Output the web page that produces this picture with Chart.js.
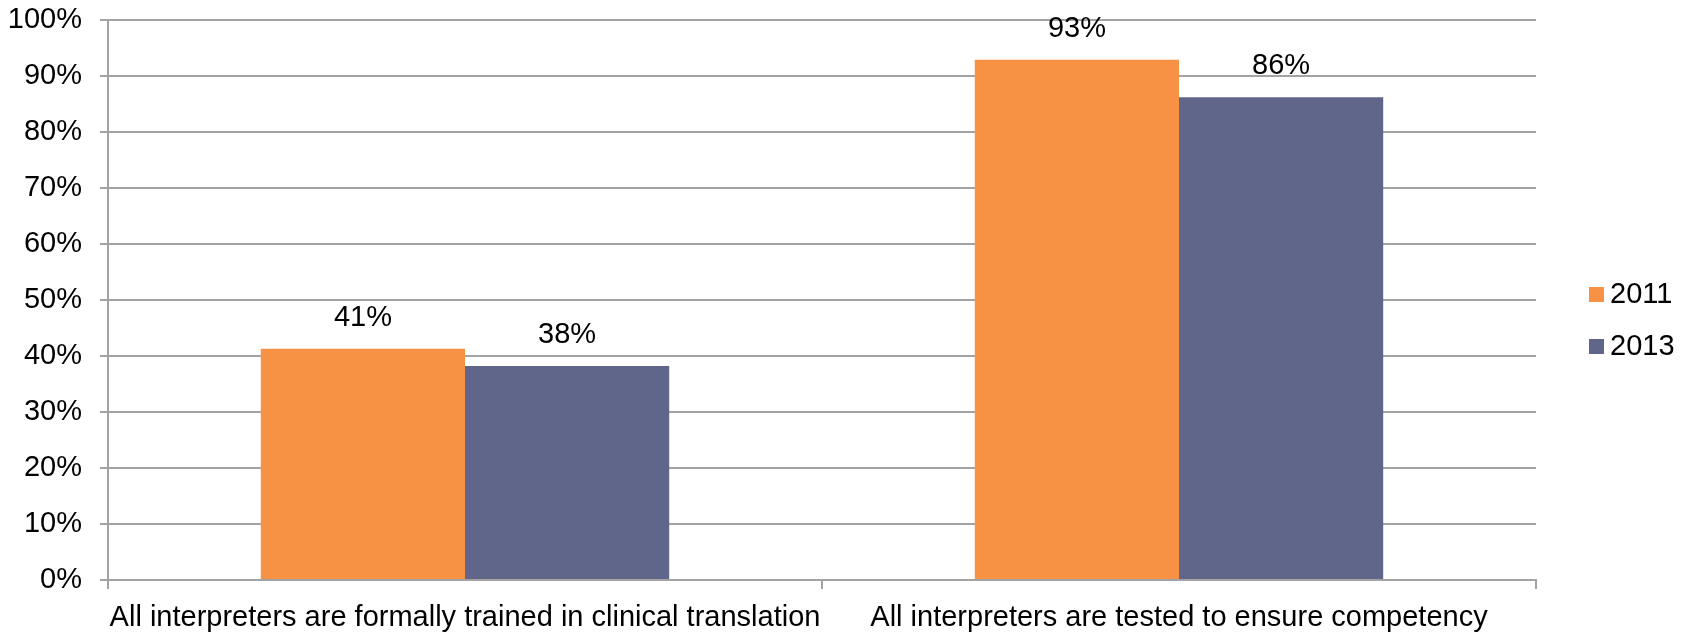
<!DOCTYPE html>
<html><head><meta charset="utf-8">
<script src="https://cdn.jsdelivr.net/npm/chart.js@4/dist/chart.umd.min.js"></script>
<style>html,body{margin:0;padding:0;background:#fff}#wrap{width:1695px;height:635px}</style>
</head><body><div id="wrap"><canvas id="c" width="1695" height="635"></canvas></div>
<script>
const categories = ["All interpreters are formally trained in clinical translation", "All interpreters are tested to ensure competency"];
const seriesNames = ["2011", "2013"];
const values2011 = [41.3, 92.9];
const values2013 = [38.2, 86.2];
const valueLabels2011 = ["41%", "93%"];
const valueLabels2013 = ["38%", "86%"];
const yTicks = [0,10,20,30,40,50,60,70,80,90,100];

const FONT = "'Liberation Sans', Arial, sans-serif";
const FS = 29;
const colors = ["#F79143", "#606689"];
const gridColor = "#A3A3A3";

const valueLabelsPlugin = {
  id: 'valueLabels',
  afterDatasetsDraw(chart) {
    const ctx = chart.ctx;
    ctx.save();
    ctx.font = FS + "px " + FONT;
    ctx.fillStyle = "#000";
    ctx.textAlign = "center";
    ctx.textBaseline = "middle";
    chart.data.datasets.forEach((ds, di) => {
      const meta = chart.getDatasetMeta(di);
      meta.data.forEach((bar, i) => {
        ctx.fillText(ds.valueLabels[i], bar.x, bar.y - 31);
      });
    });
    ctx.restore();
  }
};

const legendPlugin = {
  id: 'customLegend',
  afterDraw(chart) {
    const ctx = chart.ctx;
    ctx.save();
    ctx.font = FS + "px " + FONT;
    ctx.textBaseline = "middle";
    ctx.textAlign = "left";
    const x0 = 1589, y0 = 295, step = 52;
    chart.data.datasets.forEach((ds, di) => {
      const y = y0 + di * step;
      ctx.fillStyle = ds.backgroundColor;
      ctx.fillRect(x0, y - 8, 15, 15);
      ctx.fillStyle = "#000";
      ctx.fillText(ds.label, x0 + 21, y);
    });
    ctx.restore();
  }
};

new Chart(document.getElementById('c'), {
  type: 'bar',
  data: {
    labels: categories,
    datasets: [
      { label: seriesNames[0], data: values2011, valueLabels: valueLabels2011, backgroundColor: colors[0], categoryPercentage: 0.572, barPercentage: 1.0 },
      { label: seriesNames[1], data: values2013, valueLabels: valueLabels2013, backgroundColor: colors[1], categoryPercentage: 0.572, barPercentage: 1.0 }
    ]
  },
  options: {
    responsive: false,
    animation: false,
    events: [],
    layout: { padding: { top: 20, right: 159, left: 0, bottom: 0 } },
    plugins: { legend: { display: false }, tooltip: { enabled: false } },
    scales: {
      x: {
        afterFit(axis) { axis.height = 55; axis.paddingLeft = 0; axis.paddingRight = 0; },
        grid: { display: true, offset: true, drawOnChartArea: false, color: gridColor, lineWidth: 2, tickLength: 9 },
        border: { color: gridColor, width: 2 },
        ticks: { color: "#000", font: { size: FS, family: FONT }, padding: 12, maxRotation: 0, autoSkip: false }
      },
      y: {
        min: 0, max: 100,
        afterFit(axis) { axis.width = 108; axis.paddingTop = 0; axis.paddingBottom = 0; },
        afterBuildTicks(axis) { axis.ticks = yTicks.map(v => ({ value: v })); },
        grid: { color: gridColor, lineWidth: 2, tickLength: 8 },
        border: { color: gridColor, width: 2 },
        ticks: { color: "#000", font: { size: FS, family: FONT }, padding: 18, callback: v => v + "%" }
      }
    }
  },
  plugins: [valueLabelsPlugin, legendPlugin]
});
</script></body></html>
